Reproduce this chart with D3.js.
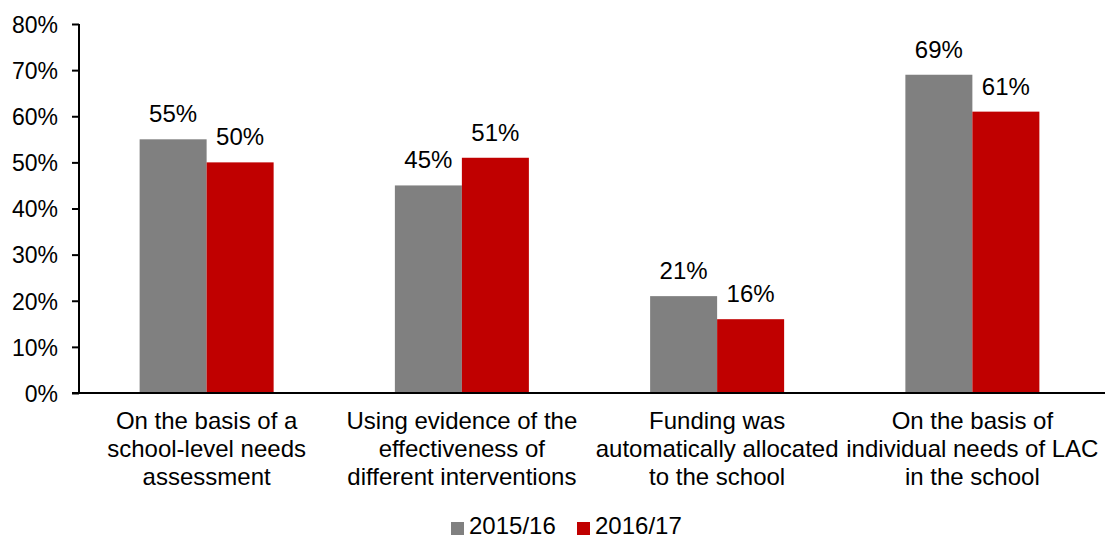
<!DOCTYPE html>
<html>
<head>
<meta charset="utf-8">
<script src="https://cdn.jsdelivr.net/npm/d3@7/dist/d3.min.js"></script>
<style>
  html, body { margin: 0; padding: 0; background: #fff; }
  svg { display: block; font-family: "Liberation Sans", Arial, sans-serif; }
</style>
</head>
<body>
<svg id="chart" width="1105" height="535"></svg>
<script>
const categories = [
  ["On the basis of a", "school-level needs", "assessment"],
  ["Using evidence of the", "effectiveness of", "different interventions"],
  ["Funding was", "automatically allocated", "to the school"],
  ["On the basis of", "individual needs of LAC", "in the school"]
];
const seriesNames = ["2015/16", "2016/17"];
const values2015 = [55, 45, 21, 69];
const values2016 = [50, 51, 16, 61];
const yTicks = [0, 10, 20, 30, 40, 50, 60, 70, 80];
const colors = ["#808080", "#C00000"];

(function () {
const svg = d3.select("#chart");
const plotLeft = 79, plotRight = 1100, plotTop = 24, plotBottom = 393;

const x0 = d3.scaleBand().domain(d3.range(categories.length))
  .range([plotLeft, plotRight]).paddingInner(0.475).paddingOuter(0.2375);
const x1 = d3.scaleBand().domain(d3.range(seriesNames.length))
  .range([0, x0.bandwidth()]).padding(0);
const y = d3.scaleLinear().domain([0, 80]).range([plotBottom, plotTop]);

const seriesValues = [values2015, values2016];

// bars
categories.forEach((c, i) => {
  const g = svg.append("g").attr("transform", `translate(${x0(i)},0)`);
  seriesValues.forEach((vals, s) => {
    g.append("rect")
      .attr("x", x1(s))
      .attr("y", y(vals[i]))
      .attr("width", x1.bandwidth())
      .attr("height", y(0) - y(vals[i]))
      .attr("fill", colors[s]);
    g.append("text")
      .attr("x", x1(s) + x1.bandwidth() / 2)
      .attr("y", y(vals[i]) - 17)
      .attr("text-anchor", "middle")
      .attr("font-size", 24)
      .attr("fill", "#000")
      .text(vals[i] + "%");
  });
});

// y axis
const yAxis = d3.axisLeft(y).tickValues(yTicks).tickFormat(d => d + "%").tickSize(7).tickPadding(14);
const yg = svg.append("g").attr("transform", `translate(${plotLeft},0)`).call(yAxis);
yg.select(".domain").attr("stroke", "#000").attr("stroke-width", 2).attr("d", `M0,${plotTop}V${plotBottom}`);
yg.selectAll(".tick line").attr("stroke", "#000").attr("stroke-width", 2);
yg.selectAll(".tick text").attr("font-size", 23).attr("fill", "#000")
  .attr("font-family", "Liberation Sans, Arial, sans-serif").attr("dy", "0.36em");

// x axis line
svg.append("line").attr("x1", plotLeft - 7).attr("x2", 1105)
  .attr("y1", plotBottom).attr("y2", plotBottom)
  .attr("stroke", "#000").attr("stroke-width", 2);

// category labels
categories.forEach((lines, i) => {
  const cx = x0(i) + x0.bandwidth() / 2;
  const t = svg.append("text").attr("text-anchor", "middle").attr("font-size", 24).attr("fill", "#000");
  lines.forEach((ln, k) => {
    t.append("tspan").attr("x", cx).attr("y", 429 + k * 28).text(ln);
  });
});

// legend
const legendX = [451, 577];
seriesNames.forEach((name, s) => {
  const lx = legendX[s];
  svg.append("rect").attr("x", lx).attr("y", 522).attr("width", 13).attr("height", 13).attr("fill", colors[s]);
  svg.append("text").attr("x", lx + 18).attr("y", 534).attr("font-size", 24).attr("fill", "#000").text(name);
});
})();
</script>
</body>
</html>
